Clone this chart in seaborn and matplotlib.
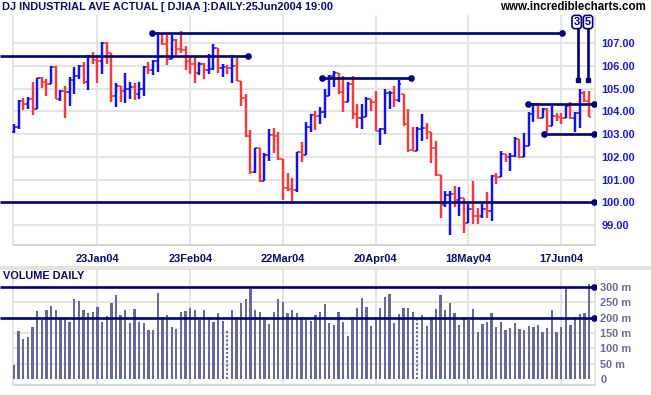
import numpy as np
import pandas as pd
import matplotlib
matplotlib.use("Agg")
import matplotlib.pyplot as plt
import seaborn as sns
from matplotlib.patches import Rectangle

# ---------------- data ----------------
opens = [103.10, 103.30, 104.45, 104.30, 104.55, 104.10, 105.45, 105.28, 105.20, 105.94,
         104.55, 104.88, 104.84, 105.38, 105.53, 105.97, 105.28, 106.41, 106.24, 106.20,
         107.00, 106.57, 104.66, 105.12, 104.91, 105.00, 105.05, 104.77, 104.99, 105.94,
         105.80, 106.19, 107.38, 106.97, 106.28, 107.12, 106.75, 106.70, 106.21, 106.09,
         105.68, 106.06, 105.83, 105.86, 106.79, 105.91, 105.94, 105.91, 105.97, 105.33,
         104.59, 102.93, 101.31, 102.38, 100.95, 102.10, 102.96, 102.90, 101.90, 100.61,
         100.60, 100.53, 102.19, 102.10, 103.30, 103.84, 103.78, 103.95, 104.69, 105.53,
         105.69, 104.85, 104.40, 105.20, 103.86, 103.70, 103.75, 104.55, 104.40, 103.15,
         103.22, 104.80, 104.82, 104.50, 104.77, 103.45, 102.30, 102.27, 103.20, 103.25,
         103.10, 102.40, 101.20, 99.90, 100.30, 100.36, 100.10, 100.20, 99.07, 99.70,
         99.40, 99.38, 99.70, 99.63, 101.17, 101.10, 102.12, 101.98, 102.05, 102.79,
         101.98, 102.49, 103.89, 104.33, 103.71, 104.11, 103.37, 103.81, 103.74, 103.72,
         104.21, 103.71, 103.92, 104.80, 104.45]
highs = [103.45, 104.50, 104.58, 104.62, 105.28, 105.46, 105.50, 105.40, 105.97, 105.97,
         104.94, 105.09, 105.50, 105.94, 106.02, 106.16, 106.47, 106.62, 106.46, 107.04,
         107.03, 106.57, 105.24, 105.12, 105.68, 105.28, 105.24, 105.28, 105.97, 106.16,
         106.24, 107.48, 107.38, 107.34, 107.34, 107.19, 107.53, 106.87, 106.41, 106.38,
         106.16, 106.12, 106.50, 106.94, 106.79, 106.06, 106.05, 106.49, 106.34, 105.33,
         104.77, 103.18, 102.38, 102.38, 102.18, 103.20, 103.25, 103.10, 101.90, 101.27,
         101.05, 102.22, 102.66, 103.52, 103.86, 103.99, 104.18, 104.99, 105.58, 105.75,
         105.69, 105.53, 105.28, 105.53, 104.33, 104.33, 104.62, 104.55, 104.89, 103.25,
         104.97, 104.87, 105.09, 105.36, 104.77, 104.11, 103.33, 103.30, 103.86, 103.48,
         103.10, 102.71, 101.20, 100.51, 100.48, 100.73, 100.66, 100.20, 99.92, 100.95,
         99.73, 99.92, 100.47, 101.21, 101.29, 102.24, 102.12, 102.15, 102.89, 102.79,
         103.04, 103.96, 104.36, 104.36, 104.14, 104.14, 104.25, 103.92, 103.92, 104.33,
         104.40, 103.96, 104.99, 104.89, 104.89]
lows = [103.05, 103.20, 104.06, 104.10, 103.84, 104.10, 105.03, 104.67, 105.20, 104.52,
        104.47, 103.71, 104.25, 104.77, 105.43, 105.21, 104.94, 106.09, 105.25, 105.65,
        106.09, 104.40, 104.18, 104.40, 104.36, 104.55, 104.50, 104.55, 104.67, 105.65,
        105.60, 105.72, 106.90, 106.05, 106.28, 106.49, 106.56, 105.83, 105.62, 105.25,
        105.60, 105.43, 105.65, 105.80, 105.69, 105.50, 105.65, 105.25, 105.33, 104.22,
        102.89, 101.24, 101.29, 100.89, 100.95, 101.83, 102.15, 101.86, 100.10, 100.51,
        100.07, 100.46, 101.78, 102.10, 103.11, 103.18, 103.45, 103.71, 104.69, 105.06,
        104.77, 103.96, 104.40, 103.67, 103.27, 103.23, 103.75, 104.03, 103.12, 102.52,
        102.98, 104.11, 104.18, 104.40, 103.37, 102.20, 102.24, 102.27, 102.71, 102.79,
        101.71, 101.17, 99.33, 99.78, 98.57, 99.78, 99.41, 98.64, 99.07, 99.04,
        99.04, 99.31, 99.31, 99.19, 100.80, 101.10, 101.76, 101.36, 101.98, 101.95,
        101.98, 102.49, 103.52, 103.67, 103.71, 103.08, 103.37, 103.56, 103.42, 103.72,
        103.67, 103.08, 103.27, 104.40, 103.74]
closes = [103.30, 104.47, 104.30, 104.55, 104.10, 105.45, 105.28, 105.20, 105.94, 104.55,
          104.88, 104.84, 105.38, 105.53, 105.97, 105.28, 106.41, 106.24, 106.20, 107.01,
          106.57, 104.66, 105.12, 104.91, 105.00, 105.05, 104.77, 104.99, 105.94, 105.80,
          106.19, 107.38, 106.97, 106.28, 107.12, 106.75, 106.70, 106.21, 106.09, 105.68,
          106.06, 105.83, 105.86, 106.79, 105.91, 105.94, 105.91, 105.97, 105.33, 104.59,
          102.93, 101.31, 102.38, 100.95, 102.10, 102.96, 102.90, 101.90, 100.61, 100.60,
          100.53, 102.19, 102.10, 103.30, 103.84, 103.78, 103.95, 104.69, 105.53, 105.69,
          104.85, 104.40, 105.20, 103.86, 103.70, 103.75, 104.55, 104.40, 103.15, 103.22,
          104.80, 104.82, 104.50, 105.20, 103.45, 102.30, 102.27, 103.20, 103.25, 103.10,
          102.40, 101.20, 99.90, 100.30, 100.36, 100.10, 100.20, 99.07, 99.70, 99.40,
          99.38, 99.70, 99.63, 101.17, 101.10, 102.12, 101.98, 102.05, 102.79, 101.98,
          102.49, 103.89, 104.33, 103.71, 104.11, 103.37, 103.81, 103.74, 103.72, 104.21,
          103.71, 103.92, 104.80, 104.45, 103.74]
volumes = [46, 156, 131, 137, 169, 221, 192, 224, 237, 224,
           195, 195, 184, 260, 254, 224, 213, 218, 234, 186,
           204, 247, 273, 208, 224, 182, 228, 186, 182, 160,
           160, 279, 202, 208, 169, 163, 218, 221, 231, 224,
           192, 224, 197, 186, 214, 189, 160, 224, 202, 247,
           260, 292, 224, 218, 195, 179, 218, 260, 250, 214,
           224, 214, 202, 195, 189, 208, 218, 244, 182, 176,
           218, 186, 140, 202, 231, 263, 234, 173, 202, 231,
           267, 276, 182, 211, 231, 231, 218, 197, 208, 173,
           202, 228, 273, 224, 247, 215, 176, 202, 192, 228,
           153, 179, 186, 215, 169, 186, 160, 166, 182, 163,
           160, 173, 169, 176, 153, 166, 224, 153, 169, 300,
           176, 202, 211, 215, 308]
dotted_volume_days = [46, 87]

date_tick_pos = [18, 38, 58, 78, 98, 118]
date_tick_labels = ["23Jan04", "23Feb04", "22Mar04", "20Apr04", "18May04", "17Jun04"]
price_ticks = [99, 100, 101, 102, 103, 104, 105, 106, 107]
vol_ticks = [0, 50, 100, 150, 200, 250, 300]
vol_tick_labels = ["0", "50 m", "100 m", "150 m", "200 m", "250 m", "300 m"]

# drawn trend / support lines: (start bar, end bar, level, dot at start, dot at end)
price_lines = [(-3.1, 50.5, 106.44, False, True),
               (29.8, 118.2, 107.45, True, True),
               (66.4, 85.6, 105.46, True, True),
               (110.8, 125.1, 104.33, True, True),
               (114.3, 125.1, 103.0, True, True),
               (-3.1, 125.1, 100.0, False, True)]
vol_lines = [300, 200]
count_marks = [(121.7, "3"), (123.85, "5")]

# ---------------- styling ----------------
sns.set_style("white")
plt.rcParams['font.family'] = ['Liberation Sans', 'DejaVu Sans']

NAVY = "#000080"
BLUE = "#1010f0"
RED = "#f43a3a"
GRID = "#e2e2e2"
VOLC = "#68689e"
FS = 7.9

W, H = 651, 395
fig = plt.figure(figsize=(W / 100, H / 100), dpi=100)
fig.patch.set_facecolor("white")

def fb(top_px, bot_px):
    return 1 - bot_px / H, (bot_px - top_px) / H

b, h = fb(15, 246)
ax = fig.add_axes([0, b, 595.5 / W, h])
b, h = fb(269, 386)
vax = fig.add_axes([0, b, 595.5 / W, h])

XL = (-3.02, 125.4)
n = len(closes)
xs = np.arange(n)

# ---------------- price panel ----------------
ax.set_xlim(*XL)
ax.set_ylim(98.08, 108.23)
left_border = -0.32
right_border = 125.3
ax.hlines(price_ticks, left_border, right_border, color=GRID, lw=1.3, zorder=0)
ax.vlines(date_tick_pos, 98.08, 108.23, color=GRID, lw=1.3, zorder=0)
ax.vlines([left_border, right_border], 98.08, 108.23, color=GRID, lw=1.3, zorder=0)
ax.hlines(98.13, left_border, right_border, color="#d6d6d6", lw=2.2, zorder=0)

up = [True] + [closes[i] > closes[i - 1] for i in range(1, n)]
cols = [BLUE if u else RED for u in up]
ax.vlines(xs, lows, highs, colors=cols, lw=1.75, zorder=3)
ax.hlines(opens, xs - 0.5, xs, colors=cols, lw=1.1, zorder=3)
ax.hlines(closes, xs, xs + 0.5, colors=cols, lw=1.1, zorder=3)

for x0, x1, lvl, d0, d1 in price_lines:
    ax.plot([x0, x1], [lvl, lvl], color=NAVY, lw=1.9, zorder=4, solid_capstyle="butt")
    pts = [x for x, d in ((x0, d0), (x1, d1)) if d]
    ax.plot(pts, [lvl] * len(pts), "o", color=NAVY, ms=3.8, zorder=5)

for xm, lab in count_marks:
    ax.plot([xm, xm], [105.36, 107.62], color=NAVY, lw=1.9, zorder=4)
    ax.plot([xm], [105.36], "s", color=NAVY, ms=2.2, zorder=5)

ax.set_yticks(price_ticks)
ax.set_yticklabels([f"{v:.2f}" for v in price_ticks])
ax.yaxis.tick_right()
ax.tick_params(axis="y", length=0, pad=4.5, labelsize=FS, labelcolor="#1818e0")
ax.set_xticks(date_tick_pos)
ax.set_xticklabels(date_tick_labels)
ax.tick_params(axis="x", length=0, pad=6, labelsize=FS, labelcolor="#0b0b6e")
for t in ax.get_xticklabels() + ax.get_yticklabels():
    t.set_fontweight("bold")
for s in ax.spines.values():
    s.set_visible(False)
ax.set_facecolor("white")

# ---------------- volume panel ----------------
vdf = pd.DataFrame({"day": xs, "volume": volumes})
solid = vdf[~vdf["day"].isin(dotted_volume_days)]
sns.barplot(data=solid, x="day", y="volume", native_scale=True, width=0.5,
            color=VOLC, saturation=1, linewidth=0, errorbar=None, ax=vax, zorder=3)
dv = vdf[vdf["day"].isin(dotted_volume_days)]
vax.vlines(dv["day"], 0, dv["volume"], colors=VOLC, lw=1.5,
           linestyles=(0, (1, 1)), zorder=3)

vax.set_xlim(*XL)
vax.set_ylim(-21.7, 357)
vax.hlines([50, 100, 150, 250], left_border, right_border, color=GRID, lw=1.3, zorder=0)
vax.vlines(date_tick_pos, -21.7, 357, color=GRID, lw=1.3, zorder=0)
vax.vlines([left_border, right_border], -21.7, 357, color=GRID, lw=1.3, zorder=0)
vax.hlines(-19.5, left_border, right_border, color="#d6d6d6", lw=2.2, zorder=0)
for lvl in vol_lines:
    vax.plot([-3.1, 125.1], [lvl, lvl], color=NAVY, lw=1.9, zorder=4, solid_capstyle="butt")
    vax.plot([125.1], [lvl], "o", color=NAVY, ms=3.8, zorder=5)

vax.set_yticks(vol_ticks)
vax.set_yticklabels(vol_tick_labels)
vax.yaxis.tick_right()
vax.tick_params(axis="y", length=0, pad=3.5, labelsize=FS, labelcolor="#6a6a98")
for t in vax.get_yticklabels():
    t.set_fontweight("bold")
vax.set_xticks([])
vax.set_xlabel("")
vax.set_ylabel("")
for s in vax.spines.values():
    s.set_visible(False)
vax.set_facecolor("white")

# ---------------- texts & decorations ----------------
fig.add_artist(Rectangle((0, 1 - 270 / H), 1, 4 / H, transform=fig.transFigure,
                         facecolor="#e4e4dc", edgecolor="none"))
fig.text(2 / W, 1 - 7 / H, "DJ INDUSTRIAL AVE ACTUAL [ DJIAA ]:DAILY:25Jun2004 19:00",
         ha="left", va="center", fontsize=7.95, fontweight="bold", color="#0b0b6e")
fig.text(646 / W, 1 - 7.5 / H, "www.incrediblecharts.com", ha="right", va="center",
         fontsize=8.3, fontweight="bold", color="black")
fig.text(3 / W, 1 - 276 / H, "VOLUME DAILY", ha="left", va="center",
         fontsize=7.8, fontweight="bold", color="#0b0b6e")
for (xm, lab), xc in zip(count_marks, [576.7, 588.0]):
    fig.text(xc / W, 1 - 22 / H, lab, ha="center", va="center", fontsize=FS,
             fontweight="bold", color=NAVY,
             bbox=dict(boxstyle="round,pad=0.15,rounding_size=0.25", fc="white",
                       ec=NAVY, lw=1.2))

fig.savefig("out.png", dpi=100, facecolor="white")
